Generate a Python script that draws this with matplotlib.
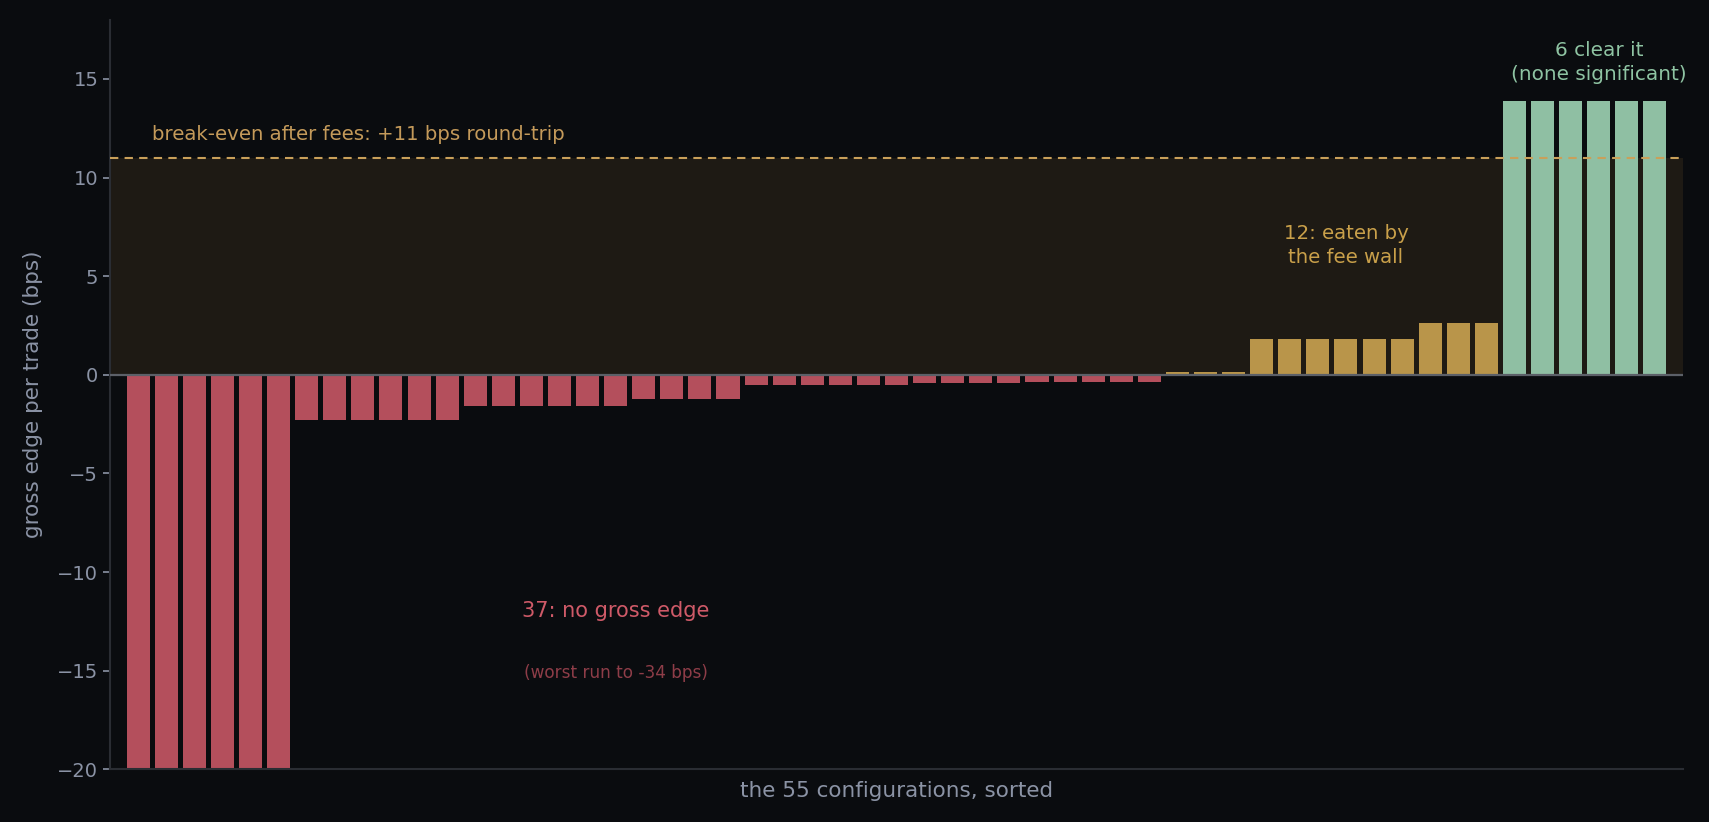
import matplotlib
matplotlib.use("Agg")
import matplotlib.pyplot as plt

# gross edge per configuration (bps), already sorted
no_edge = [-34.0] * 6 + [-2.28] * 6 + [-1.57] * 6 + [-1.22] * 4 + [-0.51] * 6 + [-0.41] * 4 + [-0.36] * 5
eaten = [0.15] * 3 + [1.83] * 6 + [2.64] * 3
clears = [13.9] * 6
break_even = 11

BG = '#0a0c0f'
RED = '#b44f5c'
GOLD = '#b9954a'
GREEN = '#8fbfa3'
MUTED = '#8b93a5'

values = no_edge + eaten + clears
colors = [RED] * len(no_edge) + [GOLD] * len(eaten) + [GREEN] * len(clears)
xs = list(range(len(values)))

fig = plt.figure(figsize=(17.09, 8.22), dpi=100, facecolor=BG)
ax = fig.add_axes([0.0644, 0.064, 0.9204, 0.912], facecolor=BG)

ax.axhspan(0, break_even, color='#1e1a14', zorder=0, lw=0)
ax.bar(xs, values, width=0.82, color=colors, zorder=2)
ax.axhline(0, color='#5c6068', lw=1.6, zorder=3)
ax.axhline(break_even, color='#c9a05a', lw=1.5, ls=(0, (4, 3)), zorder=4)

ax.set_xlim(-1, 55)
ax.set_ylim(-20, 18)
ax.set_yticks([-20, -15, -10, -5, 0, 5, 10, 15])
ax.set_xticks([])

ax.text(0.5, 12.2, 'break-even after fees: +11 bps round-trip', color='#c49a5a',
        fontsize=14.2, ha='left', va='center')
ax.text(17, -11.95, '37: no gross edge', color='#cf5a68', fontsize=15, ha='center', va='center')
ax.text(17, -15.1, '(worst run to -34 bps)', color='#8e3d48', fontsize=12.2, ha='center', va='center')
ax.text(43, 6.55, '12: eaten by\nthe fee wall', color='#c9a04a', fontsize=14.2,
        ha='center', va='center', linespacing=1.32)
ax.text(52, 15.85, '6 clear it\n(none significant)', color='#8fc4a3', fontsize=14.4,
        ha='center', va='center', linespacing=1.32)

ax.set_xlabel('the 55 configurations, sorted', color=MUTED, fontsize=15.5, labelpad=8)
ax.set_ylabel('gross edge per trade (bps)', color=MUTED, fontsize=15.5, labelpad=10)
ax.tick_params(axis='y', colors=MUTED, labelsize=14, length=5, width=1.2)

for side in ['top', 'right']:
    ax.spines[side].set_visible(False)
for side in ['left', 'bottom']:
    ax.spines[side].set_color('#2a2d33')
    ax.spines[side].set_linewidth(1.5)

fig.savefig('out.png', dpi=100, facecolor=BG)
